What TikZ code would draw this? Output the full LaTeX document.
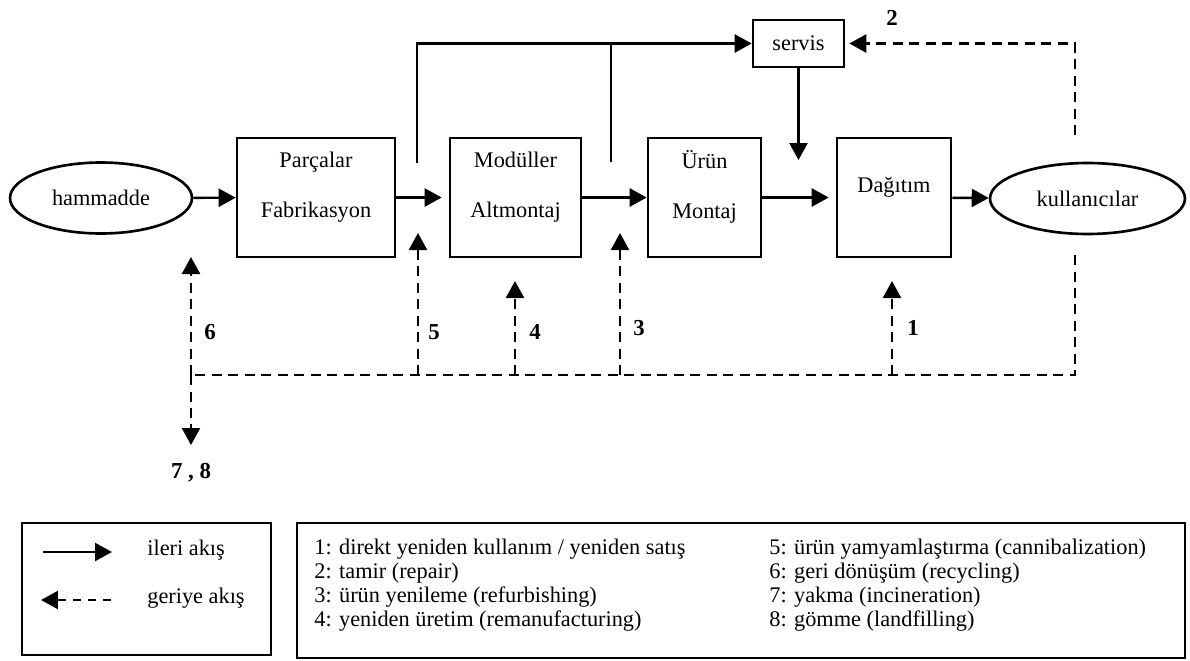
\documentclass[tikz,border=0pt]{standalone}
\usepackage{fontspec}
\setmainfont{Liberation Serif}
\usetikzlibrary{arrows.meta,shapes.geometric}

\tikzset{
  blok/.style={draw,line width=1.5pt,inner sep=0pt,minimum height=2.38cm},
  yuvarlak/.style={draw,ellipse,line width=1.5pt,inner sep=0pt,minimum height=1.42cm},
  kutuyazi/.style={inner sep=0pt,align=center,font=\fontsize{12.7pt}{28.4pt}\selectfont},
  liste/.style={inner sep=0pt,align=left,anchor=west,font=\fontsize{12.7pt}{13.66pt}\selectfont},
  rakam/.style={inner sep=0pt,font=\fontsize{13pt}{15pt}\selectfont\bfseries},
  cizgi/.style={line width=1.4pt},
  ileri/.style={cizgi,-{Triangle[length=0.34cm,width=0.36cm]}},
  geriyol/.style={cizgi,dash pattern=on 0.2cm off 0.13cm},
  geri/.style={geriyol,-{Triangle[length=0.34cm,width=0.36cm]}}
}

\begin{document}
\begin{tikzpicture}[x=0.02cm,y=-0.02cm,font=\fontsize{12.7pt}{15pt}\selectfont]
\useasboundingbox (0,0) rectangle (1190,660);

% ana akis
\node[yuvarlak,minimum width=3.64cm] (hammadde) at (101,198) {hammadde};
\node[blok,minimum width=3.16cm] (parca) at (316,197.5) {};
\node[kutuyazi] (parcayazi) at (316,187) {Parçalar\\Fabrikasyon};
\node[blok,minimum width=2.62cm] (modul) at (515.5,197.5) {};
\node[kutuyazi] (modulyazi) at (515.5,187) {Modüller\\Altmontaj};
\node[blok,minimum width=2.26cm] (urun) at (704.5,197.5) {};
\node[kutuyazi] (urunyazi) at (704.5,187) {Ürün\\Montaj};
\node[blok,minimum width=2.28cm] (dagitim) at (894,197.5) {};
\node[kutuyazi] (dagitimyazi) at (894,187) {Dağıtım};
\node[blok,minimum width=1.82cm,minimum height=0.94cm] (servis) at (798.5,43.5) {servis};
\node[yuvarlak,minimum width=3.9cm] (kullanici) at (1087.5,198.5) {kullanıcılar};

\draw[ileri] (hammadde) -- (parca);
\draw[ileri,shorten >=0.14cm] (parca) -- (modul);
\draw[ileri] (modul) -- (urun);
\draw[ileri,shorten >=0.14cm] (urun) -- (dagitim);
\draw[ileri] (dagitim) -- (kullanici);

\coordinate (ust1) at (417,163);
\coordinate (ust2) at (611,162);
\coordinate (servisuc) at (798.5,160);
\draw[ileri] (ust1) |- (servis.west);
\draw[cizgi] (ust2) -- (ust2 |- servis.west);
\draw[ileri] (servis.south) -- (servisuc);

% geri akis
\coordinate (kulust) at (1075,135);
\coordinate (kulalt) at (1075,255);
\coordinate (geridip) at (191,375);
\draw[geri,shorten >=0.08cm] (kulust) |- (servis.east);
\draw[geriyol] (kulalt) |- (geridip);
\foreach \ad/\x/\y in {bir/892/281,uc/620/233,dort/515/281,bes/418/233}{
  \coordinate (\ad) at (\x,\y);
  \coordinate (\ad dip) at (\x,375);
  \draw[geri] (\ad dip) -- (\ad);
}
\coordinate (alti) at (191,257);
\coordinate (yedi) at (191,445);
\draw[geri] (geridip) -- (alti);
\draw[geri] (geridip) -- (yedi);

\node[rakam] (r1) at (913,328) {1};
\node[rakam] (r2) at (892,18) {2};
\node[rakam] (r3) at (639,328) {3};
\node[rakam] (r4) at (535,332) {4};
\node[rakam] (r5) at (434,332) {5};
\node[rakam] (r6) at (210,332) {6};
\node[rakam] (r78) at (191,473) {7 , 8};

% lejant
\node[draw,line width=1.5pt,inner sep=0pt,minimum width=4.98cm,minimum height=2.64cm] (lejant1) at (146.5,589) {};
\coordinate (ok1a) at (43,552);
\coordinate (ok1b) at (112,552);
\coordinate (ok2a) at (111,600);
\coordinate (ok2b) at (41,600);
\draw[ileri] (ok1a) -- (ok1b);
\draw[geri,dash pattern=on 0.16cm off 0.14cm] (ok2a) -- (ok2b);
\node[inner sep=0pt,anchor=west] (ileriyazi) at (147,550) {ileri akış};
\node[inner sep=0pt,anchor=west] (geriyazi) at (147,598) {geriye akış};

\node[draw,line width=1.5pt,inner sep=0pt,minimum width=17.76cm,minimum height=2.7cm] (lejant2) at (741,590.5) {};
\node[liste] (sol) at (314,585) {1: direkt yeniden kullanım / yeniden satış\\2: tamir (repair)\\3: ürün yenileme (refurbishing)\\4: yeniden üretim (remanufacturing)};
\node[liste] (sag) at (769,585) {5: ürün yamyamlaştırma (cannibalization)\\6: geri dönüşüm (recycling)\\7: yakma (incineration)\\8: gömme (landfilling)};
\end{tikzpicture}
\end{document}
